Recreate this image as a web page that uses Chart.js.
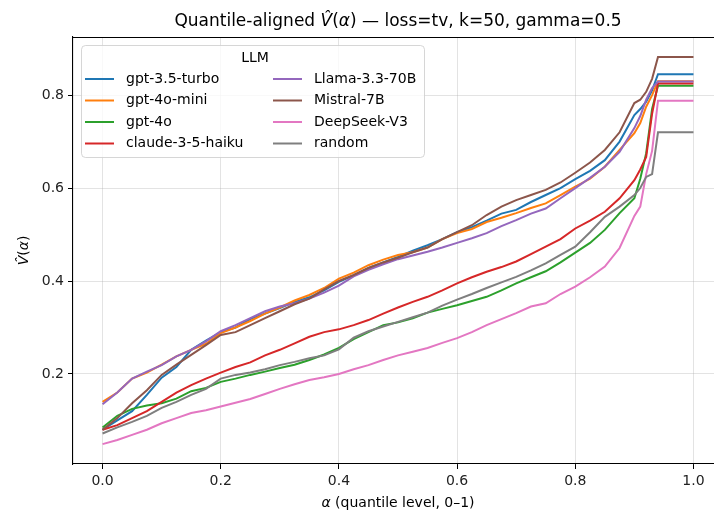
<!DOCTYPE html>
<html>
<head>
<meta charset="utf-8">
<script src="https://cdn.jsdelivr.net/npm/chart.js@4"></script>
<style>
  html, body { margin: 0; padding: 0; background: #fff; overflow: hidden; }
  #wrap { width: 740px; height: 515px; }
</style>
</head>
<body>
<div id="wrap"><canvas id="chart" width="740" height="515"></canvas></div>
<script>
// quantile levels (x) and V-hat values
const alphaLevels = [0, 0.025, 0.05, 0.075, 0.1, 0.125, 0.15, 0.175, 0.2, 0.225,
  0.25, 0.275, 0.3, 0.325, 0.35, 0.375, 0.4, 0.425, 0.45, 0.475,
  0.5, 0.525, 0.55, 0.575, 0.6, 0.625, 0.65, 0.675, 0.7, 0.725,
  0.75, 0.775, 0.8, 0.825, 0.85, 0.875, 0.9, 0.91, 0.92, 0.93, 0.94, 1.0];

const gpt35 = [0.08,0.10,0.12,0.155,0.192,0.215,0.252,0.272,0.29,0.30,
  0.318,0.33,0.342,0.355,0.365,0.38,0.398,0.412,0.428,0.44,
  0.452,0.465,0.477,0.49,0.505,0.516,0.53,0.545,0.553,0.57,
  0.585,0.60,0.619,0.637,0.66,0.70,0.757,0.77,0.786,0.81,0.845,0.845];
const gpt4oMini = [0.14,0.16,0.19,0.203,0.22,0.238,0.252,0.265,0.288,0.30,
  0.314,0.33,0.343,0.358,0.37,0.385,0.405,0.418,0.434,0.446,
  0.456,0.462,0.472,0.49,0.503,0.512,0.527,0.536,0.546,0.557,
  0.567,0.585,0.603,0.62,0.646,0.682,0.718,0.74,0.775,0.80,0.83,0.83];
const gpt4o = [0.085,0.11,0.125,0.132,0.137,0.147,0.163,0.17,0.183,0.19,
  0.198,0.205,0.213,0.22,0.23,0.242,0.256,0.275,0.29,0.305,
  0.311,0.32,0.332,0.34,0.348,0.357,0.366,0.38,0.395,0.408,
  0.421,0.44,0.461,0.482,0.51,0.546,0.578,0.62,0.675,0.77,0.82,0.82];
const claude = [0.08,0.09,0.105,0.12,0.14,0.16,0.176,0.19,0.203,0.215,
  0.225,0.24,0.252,0.266,0.28,0.29,0.296,0.305,0.316,0.33,
  0.343,0.355,0.366,0.38,0.395,0.408,0.42,0.43,0.442,0.458,
  0.474,0.49,0.513,0.53,0.549,0.578,0.617,0.64,0.667,0.76,0.825,0.825];
const llama = [0.135,0.16,0.19,0.205,0.219,0.238,0.252,0.27,0.292,0.305,
  0.32,0.335,0.345,0.352,0.362,0.375,0.39,0.41,0.424,0.436,
  0.447,0.455,0.463,0.472,0.482,0.492,0.503,0.518,0.531,0.545,
  0.556,0.578,0.60,0.622,0.646,0.678,0.729,0.755,0.79,0.815,0.829,0.829];
const mistral = [0.08,0.105,0.137,0.165,0.198,0.22,0.241,0.262,0.284,0.29,
  0.305,0.32,0.335,0.35,0.362,0.382,0.40,0.413,0.428,0.44,
  0.45,0.462,0.472,0.49,0.505,0.52,0.542,0.56,0.574,0.585,
  0.596,0.612,0.633,0.655,0.682,0.72,0.783,0.79,0.807,0.835,0.882,0.882];
const deepseek = [0.049,0.058,0.069,0.08,0.094,0.105,0.116,0.122,0.13,0.138,
  0.146,0.157,0.168,0.178,0.187,0.193,0.2,0.21,0.219,0.23,
  0.24,0.248,0.256,0.267,0.277,0.29,0.305,0.318,0.331,0.345,
  0.352,0.372,0.388,0.408,0.431,0.471,0.54,0.56,0.63,0.68,0.788,0.788];
const randomBase = [0.072,0.085,0.097,0.11,0.127,0.14,0.155,0.168,0.19,0.198,
  0.203,0.21,0.219,0.226,0.234,0.24,0.253,0.278,0.292,0.302,
  0.312,0.322,0.332,0.347,0.36,0.372,0.385,0.397,0.409,0.423,
  0.438,0.456,0.474,0.505,0.538,0.56,0.585,0.6,0.624,0.63,0.72,0.72];

const seriesNames = ['gpt-3.5-turbo','gpt-4o-mini','gpt-4o','claude-3-5-haiku',
  'Llama-3.3-70B','Mistral-7B','DeepSeek-V3','random'];
const seriesValues = [gpt35, gpt4oMini, gpt4o, claude, llama, mistral, deepseek, randomBase];
const seriesColors = ['#1f77b4','#ff7f0e','#2ca02c','#d62728','#9467bd','#8c564b','#e377c2','#7f7f7f'];

const xTicks = [0, 0.2, 0.4, 0.6, 0.8, 1.0];
const yTicks = [0.2, 0.4, 0.6, 0.8];

const FONT = "'DejaVu Sans', sans-serif";

// title, axis labels, top spine and the legend box, drawn like matplotlib
const decorations = {
  id: 'decorations',
  afterDraw(chart) {
    const ctx = chart.ctx;
    const a = chart.chartArea;
    ctx.save();

    // top + right spines
    ctx.strokeStyle = '#000';
    ctx.lineWidth = 1.1;
    ctx.beginPath();
    ctx.moveTo(a.left, a.top + 0.5);
    ctx.lineTo(a.right, a.top + 0.5);
    ctx.lineTo(a.right, a.bottom);
    ctx.stroke();

    // title with mathtext-ish parts
    const parts = [
      ['Quantile-aligned ', 'normal'], ['V\u0302', 'italic'], ['(', 'normal'],
      ['\u03b1', 'italic'], [')', 'normal'], [' \u2014 loss=tv, k=50, gamma=0.5', 'normal']
    ];
    const tSize = 17;
    let total = 0;
    parts.forEach(p => { ctx.font = p[1] + ' ' + tSize + 'px ' + FONT; total += ctx.measureText(p[0]).width; });
    let tx = (a.left + a.right) / 2 - total / 2;
    ctx.fillStyle = '#000';
    ctx.textBaseline = 'alphabetic';
    ctx.textAlign = 'left';
    parts.forEach(p => {
      ctx.font = p[1] + ' ' + tSize + 'px ' + FONT;
      ctx.fillText(p[0], tx, 26);
      tx += ctx.measureText(p[0]).width;
    });

    // x label
    const xParts = [['\u03b1', 'italic'], [' (quantile level, 0\u20131)', 'normal']];
    total = 0;
    xParts.forEach(p => { ctx.font = p[1] + ' 14px ' + FONT; total += ctx.measureText(p[0]).width; });
    tx = (a.left + a.right) / 2 - total / 2;
    xParts.forEach(p => {
      ctx.font = p[1] + ' 14px ' + FONT;
      ctx.fillText(p[0], tx, 507);
      tx += ctx.measureText(p[0]).width;
    });

    // y label, rotated
    const yParts = [['V\u0302', 'italic'], ['(', 'normal'], ['\u03b1', 'italic'], [')', 'normal']];
    ctx.save();
    ctx.translate(28, (a.top + a.bottom) / 2);
    ctx.rotate(-Math.PI / 2);
    total = 0;
    yParts.forEach(p => { ctx.font = p[1] + ' 14px ' + FONT; total += ctx.measureText(p[0]).width; });
    tx = -total / 2;
    yParts.forEach(p => {
      ctx.font = p[1] + ' 14px ' + FONT;
      ctx.fillText(p[0], tx, 0);
      tx += ctx.measureText(p[0]).width;
    });
    ctx.restore();

    // legend
    const lx = 81, ly = 45, lw = 343, lh = 112, r = 4;
    ctx.fillStyle = 'rgba(255,255,255,0.8)';
    ctx.strokeStyle = 'rgba(204,204,204,0.8)';
    ctx.lineWidth = 1;
    ctx.beginPath();
    ctx.roundRect(lx + 0.5, ly + 0.5, lw, lh, r);
    ctx.fill();
    ctx.stroke();

    ctx.fillStyle = '#000';
    ctx.font = '14px ' + FONT;
    ctx.textAlign = 'center';
    ctx.textBaseline = 'middle';
    ctx.fillText('LLM', 255, 58);

    ctx.textAlign = 'left';
    const rowY = [79, 100.5, 122, 143.5];
    const colX = [85, 273];
    seriesNames.forEach((name, i) => {
      const col = Math.floor(i / 4), row = i % 4;
      const y = rowY[row];
      ctx.strokeStyle = seriesColors[i];
      ctx.lineWidth = 2;
      ctx.beginPath();
      ctx.moveTo(colX[col], y);
      ctx.lineTo(colX[col] + 29, y);
      ctx.stroke();
      ctx.fillStyle = '#000';
      ctx.fillText(name, colX[col] + 41, y);
    });

    ctx.restore();
  }
};

const datasets = seriesNames.map((name, i) => ({
  label: name,
  data: alphaLevels.map((x, j) => ({ x: x, y: seriesValues[i][j] })),
  borderColor: seriesColors[i],
  backgroundColor: seriesColors[i],
  borderWidth: 2,
  pointRadius: 0,
  tension: 0,
  fill: false,
  order: seriesNames.length - i
}));

new Chart(document.getElementById('chart'), {
  type: 'line',
  data: { datasets: datasets },
  options: {
    responsive: false,
    animation: false,
    events: [],
    layout: { padding: { left: 0, top: 37, right: 17, bottom: 0 } },
    plugins: { legend: { display: false }, title: { display: false }, tooltip: { enabled: false } },
    scales: {
      x: {
        type: 'linear',
        min: -0.05,
        max: 1.05,
        afterBuildTicks: s => { s.ticks = xTicks.map(v => ({ value: v })); },
        afterFit: s => { s.height = 51; },
        ticks: {
          color: '#222',
          font: { family: FONT, size: 14 },
          padding: 4,
          maxRotation: 0,
          callback: v => Number(v).toFixed(1)
        },
        grid: { color: 'rgba(176,176,176,0.35)', lineWidth: 1, tickColor: '#000', tickLength: 5 },
        border: { color: '#000', width: 1.1 }
      },
      y: {
        type: 'linear',
        min: 0.0063,
        max: 0.925,
        afterBuildTicks: s => { s.ticks = yTicks.map(v => ({ value: v })); },
        afterFit: s => { s.width = 73; },
        ticks: {
          color: '#222',
          font: { family: FONT, size: 14 },
          padding: 4,
          callback: v => Number(v).toFixed(1)
        },
        grid: { color: 'rgba(176,176,176,0.35)', lineWidth: 1, tickColor: '#000', tickLength: 5 },
        border: { color: '#000', width: 1.1 }
      }
    }
  },
  plugins: [decorations]
});
</script>
</body>
</html>
